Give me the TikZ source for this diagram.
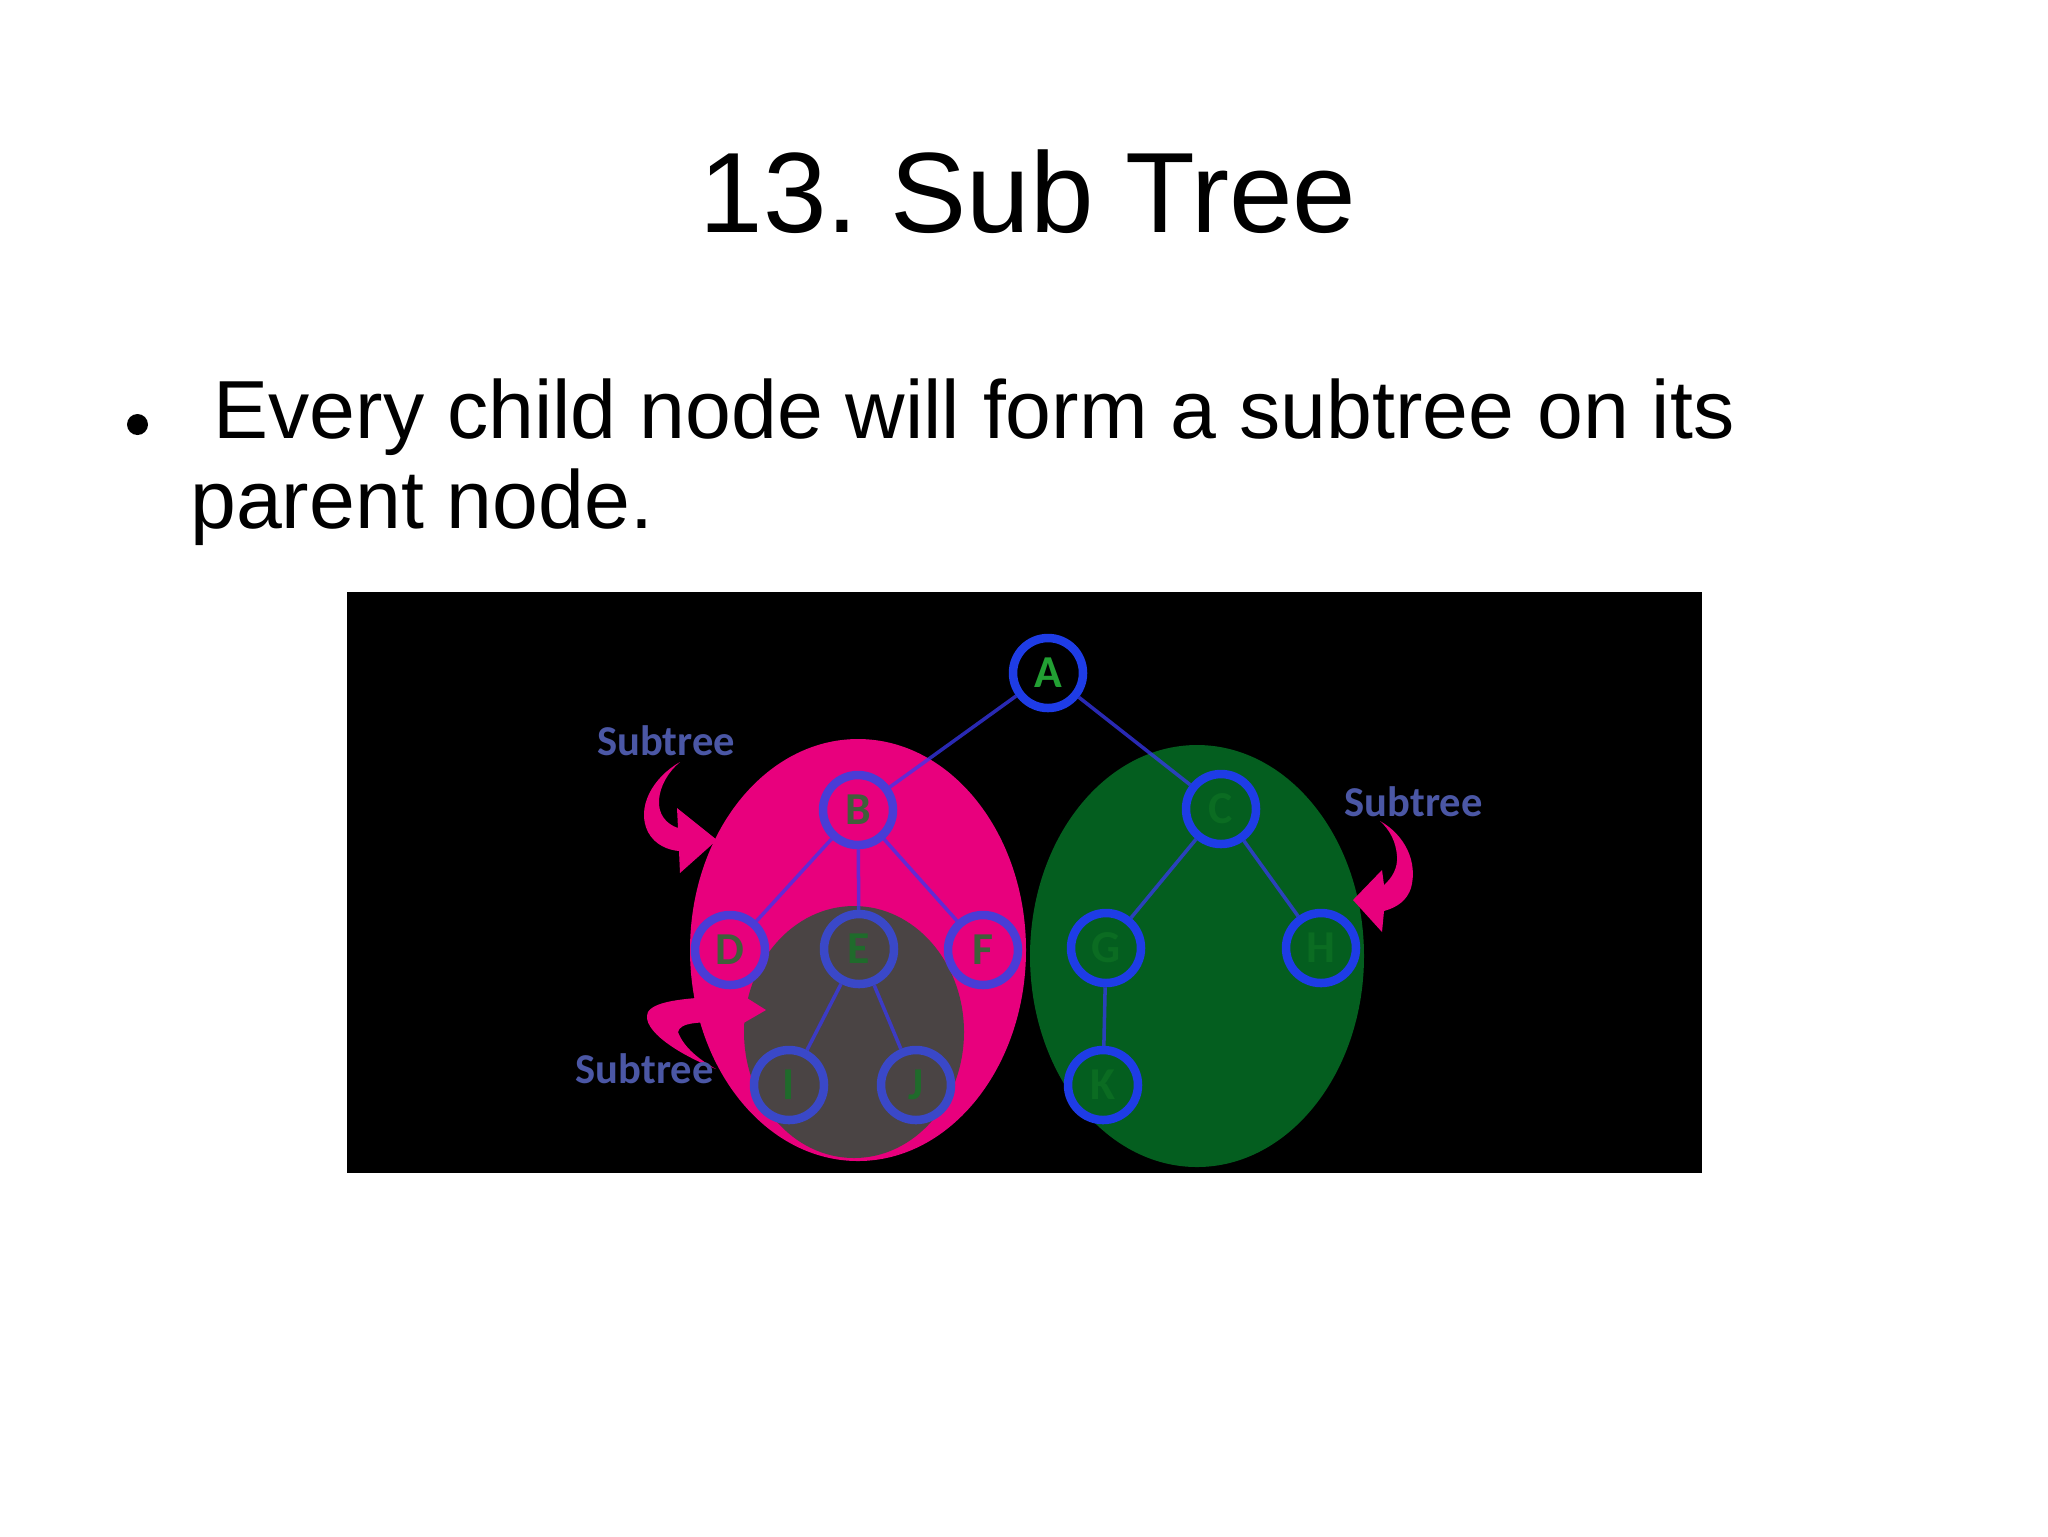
\documentclass[tikz,border=0pt]{standalone}
\usepackage{fontspec}
\setmainfont{Liberation Sans}
\newfontfamily\calib{Carlito}
\frenchspacing
\definecolor{pinkc}{HTML}{E8007D}
\definecolor{grayc}{HTML}{4A4444}
\definecolor{greenc}{HTML}{045E1F}
\definecolor{ringblue}{HTML}{1E3CE6}
\definecolor{ringpink}{HTML}{4A3CD6}
\definecolor{ringgray}{HTML}{3A48C8}
\definecolor{edgeblue}{HTML}{3838F0}
\definecolor{subblue}{HTML}{4B57A5}
\definecolor{lgreenA}{HTML}{22A033}
\definecolor{lgreenP}{HTML}{3F5F3A}
\definecolor{lgreenG}{HTML}{1F6B2B}
\definecolor{lgreenE}{HTML}{0B6C22}
\pgfdeclarelayer{bg}
\pgfdeclarelayer{mid}
\pgfsetlayers{bg,mid,main}
\tikzset{
  tn/.style={circle, draw=ringblue, line width=2.42pt, minimum size=7mm, inner sep=0pt,
    font=\calib\bfseries\fontsize{13}{13}\selectfont},
  tnp/.style={tn, draw=ringpink, text=lgreenP},
  tng/.style={tn, draw=ringgray, text=lgreenG},
  tne/.style={tn, text=lgreenE},
  edge/.style={draw=edgeblue, line width=1pt, opacity=0.75},
  sublabel/.style={anchor=base, inner sep=0pt, text=subblue, font=\calib\bfseries\fontsize{12.1}{14}\selectfont},
  bodytext/.style={anchor=base west, inner sep=0pt, font=\fontsize{23.45}{28}\selectfont},
  curvearrow/.style={fill=pinkc}
}
\begin{document}
\begin{tikzpicture}[x=0.1mm,y=-0.1mm]
\useasboundingbox (0,0) rectangle (2048,1536);
% texts
\node[anchor=base, inner sep=0pt, font=\fontsize{32.5}{40}\selectfont] (title) at (1028,232) {13. Sub Tree};
\node[circle, fill=black, minimum size=2.1mm, inner sep=0pt] (bullet) at (137.5,424.5) {};
\node[bodytext] (line1) at (213,438.5) {Every child node will form a subtree on its};
\node[bodytext] (line2) at (189.6,528.5) {parent node.};
% tree nodes
\node[tn, text=lgreenA] (A) at (1048,673) {A};
\node[tnp] (B) at (858,810) {B};
\node[tne] (C) at (1221,809) {C};
\node[tnp] (D) at (730,950) {D};
\node[tng] (E) at (859,949) {E};
\node[tnp] (F) at (983,950) {F};
\node[tne] (G) at (1106,948) {G};
\node[tne] (H) at (1321,948) {H};
\node[tng] (I) at (789,1085) {I};
\node[tng] (J) at (916,1085) {J};
\node[tne] (K) at (1103,1085) {K};
% labels
\node[sublabel] (s1) at (666,755) {Subtree};
\node[sublabel] (s2) at (644.5,1083) {Subtree};
\node[sublabel] (s3) at (1413.5,816) {Subtree};
\begin{pgfonlayer}{bg}
\fill[white] (0,0) rectangle (2048,1536);
\fill[black] (347,592) rectangle (1702,1173);
\fill[pinkc] (858,950) ellipse [x radius=168, y radius=211];
\fill[grayc] (854,1032) ellipse [x radius=110, y radius=126];
\fill[greenc] (1197,956) ellipse [x radius=167, y radius=211];
% top-left curved arrow
\fill[curvearrow] (680,762) .. controls (652,778) and (636,808) .. (648,832)
  .. controls (655,845) and (668,850) .. (679,851) -- (680,873) -- (717,840) -- (677,808)
  -- (678,828) .. controls (666,824) and (658,814) .. (659,800)
  .. controls (660,786) and (668,772) .. (680,762) -- cycle;
% bottom curved arrow
\fill[curvearrow] (716,1069) .. controls (680,1055) and (640,1030) .. (648,1012)
  .. controls (655,1000) and (690,998) .. (728,996) -- (728,986) -- (766,1010) -- (728,1032)
  -- (728,1022) .. controls (700,1022) and (680,1022) .. (678,1032)
  .. controls (684,1048) and (700,1060) .. (716,1069) -- cycle;
% right curved arrow
\fill[curvearrow] (1380,821) .. controls (1405,835) and (1418,862) .. (1411,888)
  .. controls (1407,900) and (1398,907) .. (1384,911) -- (1382,932) -- (1353,900) -- (1382,870)
  -- (1384,885) .. controls (1392,878) and (1398,868) .. (1397,856)
  .. controls (1396,842) and (1390,830) .. (1380,821) -- cycle;
\end{pgfonlayer}
\begin{pgfonlayer}{mid}
\draw[edge] (A) -- (B);
\draw[edge] (A) -- (C);
\draw[edge] (B) -- (D);
\draw[edge] (B) -- (E);
\draw[edge] (B) -- (F);
\draw[edge] (E) -- (I);
\draw[edge] (E) -- (J);
\draw[edge] (C) -- (G);
\draw[edge] (C) -- (H);
\draw[edge] (G) -- (K);
\end{pgfonlayer}
\end{tikzpicture}
\end{document}
